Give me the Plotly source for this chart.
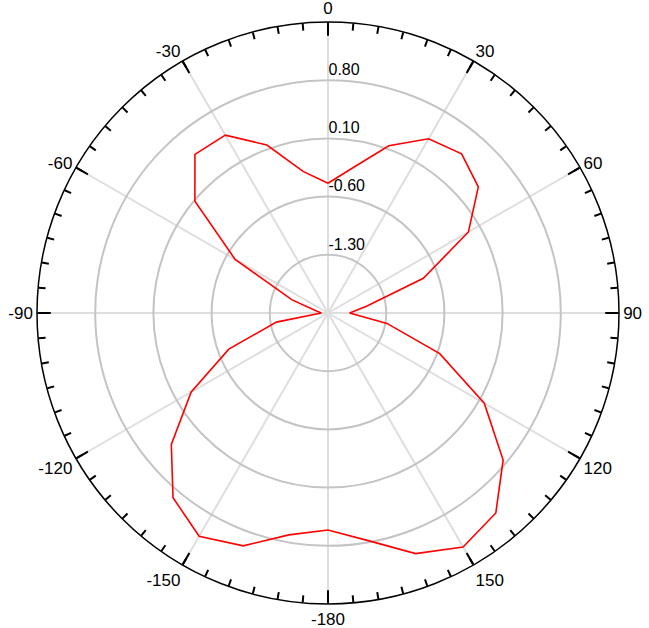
import plotly.graph_objects as go

# pattern angle (deg) and level
angles = [0, 10, 20, 30, 40, 50, 60, 70, 80, 90, 100, 110, 120, 130, 140, 150, 160, 170,
          180, 190, 200, 210, 220, 230, 240, 250, 260, 270, 280, 290, 300, 310, 320, 330, 340, 350, 360]
levels = [-0.44, -0.22, 0.14, 0.42, 0.50, 0.36, -0.05, -0.78, -1.53, -1.74, -1.28, -0.57, 0.17,
          0.75, 1.14, 1.25, 1.08, 0.78, 0.61, 0.71, 0.98, 1.10, 0.90, 0.46, -0.10, -0.73, -1.37,
          -1.92, -1.86, -1.54, -0.71, 0.09, 0.49, 0.47, 0.15, -0.27, -0.44]

r_ticks = [-1.3, -0.6, 0.1, 0.8]
r_labels = ['-1.30', '-0.60', '0.10', '0.80']
theta_ticks = [0, 30, 60, 90, 120, 150, 180, 210, 240, 270, 300, 330]
theta_labels = ['0', '30', '60', '90', '120', '150', '-180', '-150', '-120', '-90', '-60', '-30']

font = dict(family='Liberation Sans, Arial, sans-serif', size=17, color='black')
rfont = dict(family='Liberation Sans, Arial, sans-serif', size=16, color='black')

fig = go.Figure()
fig.add_trace(go.Scatterpolar(
    r=levels, theta=angles, mode='lines',
    line=dict(color='#ff0000', width=1.6),
    showlegend=False, subplot='polar',
))
# empty trace so the minor-tick overlay gets drawn
fig.add_trace(go.Scatterpolar(r=[], theta=[], subplot='polar2', showlegend=False))

dom = dict(x=[0, 1], y=[0, 1])
fig.update_layout(
    width=649, height=628,
    margin=dict(l=37, r=30, t=22, b=24),
    paper_bgcolor='white',
    font=font,
    polar=dict(
        domain=dom,
        bgcolor='white',
        radialaxis=dict(
            range=[-2, 1.5], tickvals=r_ticks,
            # trailing blank line lifts each label above its circle
            ticktext=[t + '<br> ' for t in r_labels],
            angle=90, tickangle=90, side='clockwise',
            showline=False, ticks='',
            gridcolor='#c4c4c4', gridwidth=1.5,
            tickfont=rfont,
        ),
        angularaxis=dict(
            rotation=90, direction='clockwise',
            tickvals=theta_ticks, ticktext=theta_labels,
            ticks='inside', ticklen=13, tickwidth=1.5, tickcolor='black',
            showline=True, linecolor='black', linewidth=1.5,
            gridcolor='#dedede', gridwidth=1.5,
            tickfont=font,
        ),
    ),
    polar2=dict(
        domain=dom,
        bgcolor='rgba(0,0,0,0)',
        radialaxis=dict(visible=False, range=[-2, 1.5]),
        angularaxis=dict(
            rotation=90, direction='clockwise',
            dtick=5, tick0=0,
            ticks='inside', ticklen=7, tickwidth=1.5, tickcolor='black',
            showticklabels=False, showgrid=False, showline=False,
        ),
    ),
)

fig.write_html("out.html", config={'displayModeBar': False},
               post_script="document.body.style.margin='0px';")
